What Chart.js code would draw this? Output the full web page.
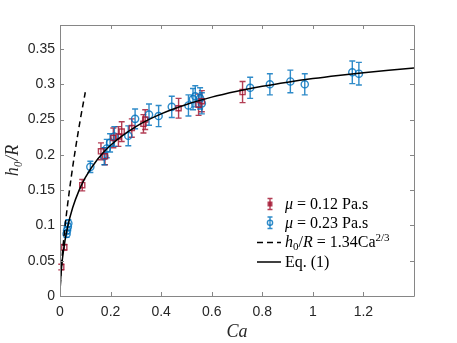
<!DOCTYPE html>
<html>
<head>
<meta charset="utf-8">
<script src="https://cdn.jsdelivr.net/npm/chart.js@4.4.1/dist/chart.umd.min.js"></script>
<style>
  html, body { margin: 0; padding: 0; background: #fff; }
  #wrap { position: relative; width: 457px; height: 343px; }
  canvas { position: absolute; left: 0; top: 0; }
  .lg { position: absolute; left: 285px; font-family: "Liberation Serif", "DejaVu Serif", serif; font-size: 16px; line-height: 19px; color: #000; white-space: nowrap; }
  .lg sub { font-size: 11px; vertical-align: -3px; line-height: 0; }
  .lg sup { font-size: 11px; vertical-align: 6px; line-height: 0; }
</style>
</head>
<body>
<div id="wrap">
  <canvas id="c" width="457" height="343"></canvas>
  <div class="lg" style="top:194px"><i>μ</i> = 0.12 Pa.s</div>
  <div class="lg" style="top:213px"><i>μ</i> = 0.23 Pa.s</div>
  <div class="lg" style="top:232px"><i>h</i><sub>0</sub>/<i>R</i> = 1.34Ca<sup>2/3</sup></div>
  <div class="lg" style="top:252px">Eq. (1)</div>
</div>
<script>
// ---- data ----
const xTickValues = [0, 0.2, 0.4, 0.6, 0.8, 1, 1.2];
const yTickValues = [0, 0.05, 0.1, 0.15, 0.2, 0.25, 0.3, 0.35];

const redCa  = [0.005, 0.017, 0.088, 0.162, 0.178, 0.211, 0.231, 0.244, 0.284, 0.330, 0.337, 0.469, 0.548, 0.561, 0.722];
const redH   = [0.041, 0.069, 0.157, 0.205, 0.198, 0.224, 0.226, 0.233, 0.238, 0.244, 0.250, 0.266, 0.271, 0.276, 0.289];
const redErr = [0.004, 0.004, 0.008, 0.012, 0.012, 0.014, 0.014, 0.014, 0.013, 0.013, 0.014, 0.014, 0.015, 0.015, 0.015];

const blueCa  = [0.026, 0.028, 0.031, 0.033, 0.120, 0.175, 0.185, 0.198, 0.215, 0.270, 0.297, 0.352, 0.390, 0.442, 0.508, 0.526, 0.535, 0.554, 0.561, 0.752, 0.830, 0.911, 0.968, 1.156, 1.182];
const blueH   = [0.088, 0.093, 0.098, 0.103, 0.183, 0.198, 0.209, 0.217, 0.226, 0.227, 0.251, 0.257, 0.255, 0.268, 0.270, 0.279, 0.283, 0.280, 0.273, 0.295, 0.300, 0.304, 0.300, 0.317, 0.315];
const blueErr = [0.005, 0.005, 0.005, 0.005, 0.008, 0.012, 0.013, 0.013, 0.014, 0.014, 0.014, 0.015, 0.015, 0.015, 0.015, 0.015, 0.015, 0.015, 0.015, 0.015, 0.015, 0.016, 0.015, 0.016, 0.016];

// Eq. (1) curve
const eqCa = [0, 0.0002, 0.0005, 0.001, 0.003, 0.006, 0.01, 0.02, 0.03, 0.05, 0.075, 0.1, 0.15, 0.2, 0.3, 0.4, 0.5, 0.6, 0.7, 0.8, 0.9, 1.0, 1.1, 1.2, 1.3, 1.4];
const eqH  = [0, 0.0045, 0.0083, 0.0130, 0.0261, 0.0398, 0.0538, 0.0792, 0.0978, 0.1250, 0.1493, 0.1677, 0.1944, 0.2136, 0.2401, 0.2581, 0.2714, 0.2818, 0.2901, 0.2971, 0.3030, 0.3081, 0.3125, 0.3164, 0.3199, 0.3230];

// h0/R = 1.34 Ca^(2/3) dashed line
const dashCa = [0, 0.001, 0.003, 0.006, 0.01, 0.02, 0.03, 0.045, 0.06, 0.08, 0.1];
const dashH  = [0, 0.0134, 0.0279, 0.0442, 0.0622, 0.0987, 0.1294, 0.1699, 0.2059, 0.2494, 0.2887];

const RED = 'rgba(162,20,47,0.82)';
const BLUE = 'rgba(0,114,189,0.82)';
const FRAME = '#868686';

const pts = (xs, ys) => xs.map((x, i) => ({x: x, y: ys[i]}));

const errorBars = {
  id: 'errorBars',
  beforeDatasetsDraw(chart) {
    const ctx = chart.ctx, xs = chart.scales.x, ys = chart.scales.y;
    const sets = [[redCa, redH, redErr, RED], [blueCa, blueH, blueErr, BLUE]];
    ctx.save();
    ctx.lineWidth = 1.4;
    sets.forEach(([cx, hy, er, col]) => {
      ctx.strokeStyle = col;
      cx.forEach((c, i) => {
        const px = xs.getPixelForValue(c);
        const y1 = ys.getPixelForValue(hy[i] + er[i]);
        const y2 = ys.getPixelForValue(hy[i] - er[i]);
        ctx.beginPath();
        ctx.moveTo(px, y1); ctx.lineTo(px, y2);
        ctx.moveTo(px - 3, y1); ctx.lineTo(px + 3, y1);
        ctx.moveTo(px - 3, y2); ctx.lineTo(px + 3, y2);
        ctx.stroke();
      });
    });
    ctx.restore();
  }
};

const frameTicks = {
  id: 'frameTicks',
  afterDraw(chart) {
    const ctx = chart.ctx, a = chart.chartArea, xs = chart.scales.x, ys = chart.scales.y;
    ctx.save();
    ctx.strokeStyle = FRAME;
    ctx.lineWidth = 1;
    ctx.beginPath();
    ctx.rect(Math.round(a.left) + 0.5, Math.round(a.top) + 0.5, Math.round(a.right - a.left), Math.round(a.bottom - a.top));
    ctx.stroke();
    ctx.beginPath();
    xTickValues.forEach(v => {
      const px = Math.round(xs.getPixelForValue(v)) + 0.5;
      ctx.moveTo(px, a.bottom); ctx.lineTo(px, a.bottom - 4);
      ctx.moveTo(px, a.top); ctx.lineTo(px, a.top + 4);
    });
    yTickValues.forEach(v => {
      const py = Math.round(ys.getPixelForValue(v)) + 0.5;
      ctx.moveTo(a.left, py); ctx.lineTo(a.left + 4, py);
      ctx.moveTo(a.right, py); ctx.lineTo(a.right - 4, py);
    });
    ctx.stroke();

    // legend icons
    const lx = 270;
    ctx.lineWidth = 1.4;
    ctx.strokeStyle = RED; ctx.fillStyle = RED;
    ctx.beginPath();
    ctx.moveTo(lx, 198.5); ctx.lineTo(lx, 209.5);
    ctx.moveTo(lx - 2.5, 198.5); ctx.lineTo(lx + 2.5, 198.5);
    ctx.moveTo(lx - 2.5, 209.5); ctx.lineTo(lx + 2.5, 209.5);
    ctx.stroke();
    ctx.fillRect(lx - 2.5, 201.5, 5, 5);
    ctx.strokeStyle = BLUE;
    ctx.beginPath();
    ctx.moveTo(lx, 217); ctx.lineTo(lx, 228.5);
    ctx.moveTo(lx - 2.5, 217); ctx.lineTo(lx + 2.5, 217);
    ctx.moveTo(lx - 2.5, 228.5); ctx.lineTo(lx + 2.5, 228.5);
    ctx.stroke();
    ctx.beginPath(); ctx.arc(lx, 222.7, 2.6, 0, Math.PI * 2); ctx.stroke();
    ctx.strokeStyle = '#000'; ctx.lineWidth = 1.5;
    ctx.setLineDash([6, 4]);
    ctx.beginPath(); ctx.moveTo(257, 242.5); ctx.lineTo(281, 242.5); ctx.stroke();
    ctx.setLineDash([]);
    ctx.beginPath(); ctx.moveTo(257, 262); ctx.lineTo(281, 262); ctx.stroke();
    ctx.restore();
  }
};

const fmt = v => String(Number(v.toFixed(2)));

new Chart(document.getElementById('c'), {
  type: 'scatter',
  data: {
    datasets: [
      { label: 'Eq. (1)', data: pts(eqCa, eqH), showLine: true, borderColor: '#000', borderWidth: 1.5,
        pointRadius: 0, cubicInterpolationMode: 'monotone', fill: false },
      { label: 'h0/R = 1.34Ca^(2/3)', data: pts(dashCa, dashH), showLine: true, borderColor: '#000', borderWidth: 1.5,
        borderDash: [6, 4], pointRadius: 0, cubicInterpolationMode: 'monotone', fill: false },
      { label: 'μ = 0.12 Pa.s', data: pts(redCa, redH), pointStyle: 'rect', pointRadius: 3.6,
        borderColor: RED, backgroundColor: 'rgba(0,0,0,0)', pointBorderWidth: 1.4, showLine: false },
      { label: 'μ = 0.23 Pa.s', data: pts(blueCa, blueH), pointStyle: 'circle', pointRadius: 3.6,
        borderColor: BLUE, backgroundColor: 'rgba(0,0,0,0)', pointBorderWidth: 1.4, showLine: false }
    ]
  },
  options: {
    responsive: false,
    animation: false,
    devicePixelRatio: 1,
    layout: { padding: { left: 0, right: 43, top: 25, bottom: 0 } },
    plugins: { legend: { display: false }, tooltip: { enabled: false } },
    scales: {
      x: {
        type: 'linear', min: 0, max: 1.4,
        afterBuildTicks: s => { s.ticks = xTickValues.map(v => ({value: v})); },
        afterFit: s => { s.height = 47; },
        grid: { display: false, drawTicks: false },
        border: { display: false },
        ticks: { padding: 8, color: '#262626', font: { family: 'Liberation Sans, Arial, sans-serif', size: 14 },
                 callback: v => fmt(v), maxRotation: 0 },
        title: { display: true, text: 'Ca', color: '#262626', padding: { top: 0, bottom: 0 },
                 font: { family: 'Liberation Serif, DejaVu Serif, serif', size: 18, style: 'italic' } }
      },
      y: {
        type: 'linear', min: 0, max: 0.384,
        afterBuildTicks: s => { s.ticks = yTickValues.map(v => ({value: v})); },
        afterFit: s => { s.width = 60; },
        grid: { display: false, drawTicks: false },
        border: { display: false },
        ticks: { padding: 5, color: '#262626', font: { family: 'Liberation Sans, Arial, sans-serif', size: 14 },
                 callback: v => fmt(v) },
        title: { display: true, text: 'h₀/R', color: '#262626', padding: { top: 2, bottom: 0 },
                 font: { family: 'Liberation Serif, DejaVu Serif, serif', size: 18, style: 'italic' } }
      }
    }
  },
  plugins: [errorBars, frameTicks]
});
</script>
</body>
</html>
